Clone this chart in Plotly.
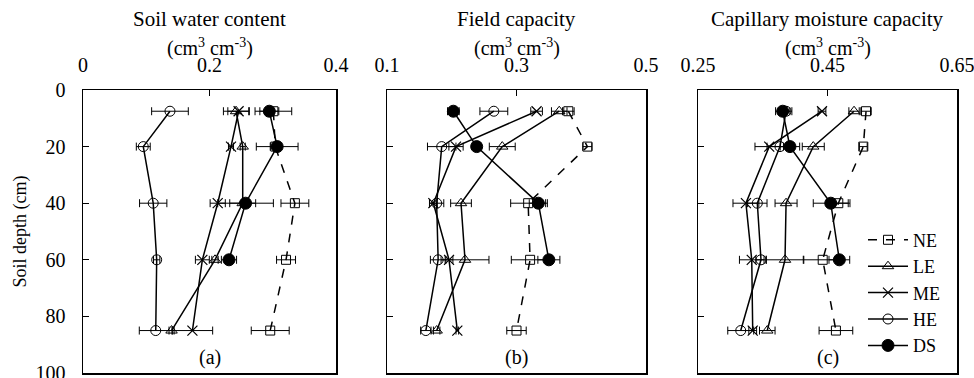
import plotly.graph_objects as go

# ---------------- data ----------------
depths = [7.5, 20, 40, 60, 85]
depths_ds = [7.5, 20, 40, 60]
series = ["NE", "LE", "ME", "HE", "DS"]

# Soil water content (cm3 cm-3)
swc_NE = [0.301, 0.304, 0.335, 0.321, 0.296]
swc_NE_err = [0.029, 0.008, 0.022, 0.015, 0.030]
swc_LE = [0.242, 0.2525, 0.2525, 0.2087, 0.140]
swc_LE_err = [0.020, 0.004, 0.0205, 0.005, 0.004]
swc_ME = [0.246, 0.234, 0.213, 0.1887, 0.173]
swc_ME_err = [0.017, 0.004, 0.012, 0.011, 0.032]
swc_HE = [0.1375, 0.0953, 0.111, 0.1165, 0.115]
swc_HE_err = [0.029, 0.011, 0.0216, 0.005, 0.026]
swc_DS = [0.2946, 0.307, 0.257, 0.2308]
swc_DS_err = [0.015, 0.033, 0.044, 0.012]

# Field capacity (cm3 cm-3)
fc_NE = [0.380, 0.4095, 0.318, 0.321, 0.300]
fc_NE_err = [0.009, 0.007, 0.027, 0.029, 0.015]
fc_LE = [0.366, 0.278, 0.2143, 0.2205, 0.1767]
fc_LE_err = [0.012, 0.020, 0.016, 0.037, 0.005]
fc_ME = [0.331, 0.2066, 0.1716, 0.1958, 0.2086]
fc_ME_err = [0.009, 0.011, 0.006, 0.006, 0.002]
fc_HE = [0.265, 0.1845, 0.1767, 0.179, 0.160]
fc_HE_err = [0.0215, 0.022, 0.011, 0.012, 0.008]
fc_DS = [0.2025, 0.2385, 0.3337, 0.350]
fc_DS_err = [0.009, 0.004, 0.014, 0.017]

# Capillary moisture capacity (cm3 cm-3)
cmc_NE = [0.5095, 0.5053, 0.4667, 0.4426, 0.463]
cmc_NE_err = [0.008, 0.006, 0.018, 0.030, 0.026]
cmc_LE = [0.491, 0.428, 0.386, 0.3844, 0.357]
cmc_LE_err = [0.008, 0.017, 0.017, 0.029, 0.012]
cmc_ME = [0.4415, 0.360, 0.324, 0.333, 0.3345]
cmc_ME_err = [0.006, 0.022, 0.020, 0.019, 0.006]
cmc_HE = [0.386, 0.3766, 0.3416, 0.3473, 0.316]
cmc_HE_err = [0.009, 0.020, 0.015, 0.008, 0.020]
cmc_DS = [0.3808, 0.392, 0.455, 0.4683]
cmc_DS_err = [0.011, 0.015, 0.027, 0.016]

panel_titles = ["Soil water content", "Field capacity", "Capillary moisture capacity"]
panel_units = "(cm<sup>3</sup> cm<sup>-3</sup>)"
panel_tags = ["(a)", "(b)", "(c)"]
x_ticks = [[0, 0.2, 0.4], [0.1, 0.3, 0.5], [0.25, 0.45, 0.65]]
x_ticktext = [["0", "0.2", "0.4"], ["0.1", "0.3", "0.5"], ["0.25", "0.45", "0.65"]]
y_ticks = [0, 20, 40, 60, 80, 100]

panels = [
    {"NE": (swc_NE, swc_NE_err), "LE": (swc_LE, swc_LE_err), "ME": (swc_ME, swc_ME_err),
     "HE": (swc_HE, swc_HE_err), "DS": (swc_DS, swc_DS_err)},
    {"NE": (fc_NE, fc_NE_err), "LE": (fc_LE, fc_LE_err), "ME": (fc_ME, fc_ME_err),
     "HE": (fc_HE, fc_HE_err), "DS": (fc_DS, fc_DS_err)},
    {"NE": (cmc_NE, cmc_NE_err), "LE": (cmc_LE, cmc_LE_err), "ME": (cmc_ME, cmc_ME_err),
     "HE": (cmc_HE, cmc_HE_err), "DS": (cmc_DS, cmc_DS_err)},
]

# ---------------- style ----------------
FONT = "Liberation Serif"
FS = 20
W, H = 974, 378
ML, MR, MT = 0, 0, 90
MB = H - 373
plot_h = H - MT - MB
domains = [(83 / W, 336 / W), (387 / W, 646 / W), (698 / W, 957 / W)]


def py(screen_y):
    """screen y (px) -> paper y"""
    return (H - MB - screen_y) / plot_h


styles = {
    "NE": dict(symbol="square-open", size=9, dash="dash", lw=1.0),
    "LE": dict(symbol="triangle-up-open", size=10, dash="solid", lw=1.0),
    "ME": dict(symbol="x-thin-open", size=10, dash="solid", lw=1.2),
    "HE": dict(symbol="circle-open", size=10, dash="solid", lw=1.0),
    "DS": dict(symbol="circle", size=12, dash="solid", lw=1.0),
}

fig = go.Figure()
for i, pdata in enumerate(panels):
    xa = "x" if i == 0 else f"x{i+1}"
    ya = "y" if i == 0 else f"y{i+1}"
    for s in series:
        vals, errs = pdata[s]
        st = styles[s]
        dd = depths_ds if s == "DS" else depths
        fig.add_trace(go.Scatter(
            x=vals, y=dd, xaxis=xa, yaxis=ya,
            mode="lines+markers", name=s, legendgroup=s,
            showlegend=(i == 0),
            line=dict(color="black", width=1.5, dash=st["dash"]),
            marker=dict(symbol=st["symbol"], size=st["size"], color="black",
                        line=dict(color="black", width=st["lw"])),
            error_x=dict(type="data", array=errs, visible=True,
                         color="black", thickness=1, width=4),
        ))

layout = dict(
    width=W, height=H,
    margin=dict(l=ML, r=MR, t=MT, b=MB, autoexpand=False),
    paper_bgcolor="white", plot_bgcolor="white",
    font=dict(family=FONT, size=FS, color="black"),
    legend=dict(x=863 / W, y=0.535, xanchor="left", yanchor="top",
                bgcolor="rgba(0,0,0,0)", borderwidth=0,
                font=dict(family=FONT, size=18), tracegroupgap=0,
                itemwidth=40),
    showlegend=True,
)

annotations = []
for i in range(3):
    xk = "xaxis" if i == 0 else f"xaxis{i+1}"
    yk = "yaxis" if i == 0 else f"yaxis{i+1}"
    ya = "y" if i == 0 else f"y{i+1}"
    xa = "x" if i == 0 else f"x{i+1}"
    layout[xk] = dict(
        domain=list(domains[i]), anchor=ya, side="top",
        range=[x_ticks[i][0], x_ticks[i][-1]],
        tickvals=x_ticks[i], ticktext=x_ticktext[i],
        ticks="inside", ticklen=6, tickwidth=1, tickcolor="black",
        showline=True, linecolor="black", linewidth=1.5, mirror=True,
        showgrid=False, zeroline=False, ticklabelstandoff=9,
        automargin=False, ticklabeloverflow="allow",
        tickfont=dict(family=FONT, size=FS),
    )
    layout[yk] = dict(
        domain=[0, 1], anchor=xa,
        range=[100, 0], tickvals=y_ticks,
        showticklabels=(i == 0),
        ticks="inside", ticklen=6, tickwidth=1, tickcolor="black",
        showline=True, linecolor="black", linewidth=1.5, mirror=True,
        showgrid=False, zeroline=False, ticklabelstandoff=12,
        automargin=False, ticklabeloverflow="allow",
        tickfont=dict(family=FONT, size=FS),
    )
    cx = (domains[i][0] + domains[i][1]) / 2
    annotations.append(dict(text=panel_titles[i], x=cx, y=py(19),
                            xref="paper", yref="paper", showarrow=False,
                            xanchor="center", yanchor="middle",
                            font=dict(family=FONT, size=21)))
    annotations.append(dict(text=panel_units, x=cx, y=py(47),
                            xref="paper", yref="paper", showarrow=False,
                            xanchor="center", yanchor="middle",
                            font=dict(family=FONT, size=20)))
    annotations.append(dict(text=panel_tags[i], x=cx, y=py(357),
                            xref="paper", yref="paper", showarrow=False,
                            xanchor="center", yanchor="middle",
                            font=dict(family=FONT, size=FS)))

annotations.append(dict(text="Soil depth (cm)", x=20 / W, y=0.5, xref="paper", yref="paper",
                        showarrow=False, textangle=-90, xanchor="center", yanchor="middle",
                        font=dict(family=FONT, size=18)))
layout["annotations"] = annotations
fig.update_layout(**layout)

fig.write_html("out.html",
               config={"displayModeBar": False, "staticPlot": True},
               post_script="document.body.style.margin='0px';document.body.style.overflow='hidden';")
